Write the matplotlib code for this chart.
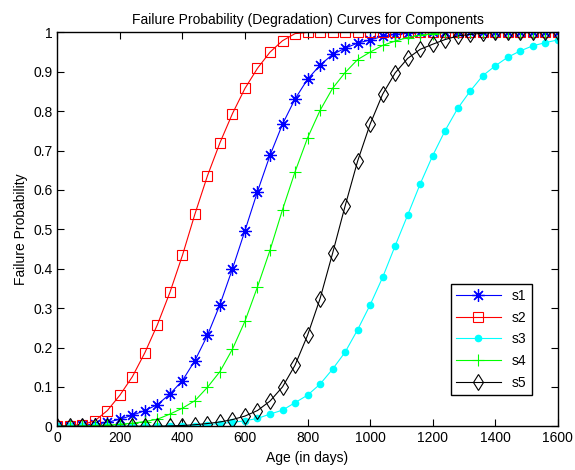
import numpy as np
import matplotlib
matplotlib.use("Agg")
import matplotlib.pyplot as plt

plt.rcParams['font.family'] = ['Liberation Sans', 'DejaVu Sans']

# ages where the curves were sampled (every 40 days)
age = np.arange(0, 1601, 40)

s1 = [0, 0.001, 0.003, 0.005, 0.010, 0.018, 0.028, 0.040, 0.055, 0.082,
      0.116, 0.167, 0.231, 0.309, 0.400, 0.497, 0.596, 0.688, 0.767, 0.831,
      0.881, 0.917, 0.944, 0.960, 0.973, 0.981, 0.990, 0.995, 0.998,
      1, 1, 1, 1, 1, 1, 1, 1, 1, 1, 1, 1]
s2 = [0, 0.002, 0.004, 0.014, 0.040, 0.079, 0.126, 0.187, 0.258, 0.340,
      0.434, 0.539, 0.636, 0.720, 0.794, 0.858, 0.909, 0.950, 0.979, 0.997,
      1, 1, 1, 1, 1, 1, 1, 1, 1, 1, 1, 1, 1, 1, 1, 1, 1, 1, 1, 1, 1]
s3 = [0, 0, 0, 0, 0, 0, 0, 0, 0, 0,
      0.001, 0.002, 0.004, 0.007, 0.010, 0.014, 0.020, 0.031, 0.041, 0.060,
      0.079, 0.107, 0.145, 0.188, 0.245, 0.308, 0.378, 0.458, 0.536, 0.615,
      0.687, 0.751, 0.807, 0.851, 0.890, 0.915, 0.937, 0.953, 0.966, 0.974,
      0.981]
s4 = [0, 0, 0.001, 0.002, 0.003, 0.005, 0.008, 0.012, 0.018, 0.031,
      0.046, 0.065, 0.099, 0.139, 0.196, 0.267, 0.354, 0.447, 0.550, 0.646,
      0.732, 0.802, 0.858, 0.898, 0.931, 0.950, 0.967, 0.978, 0.987, 0.993,
      0.997, 1, 1, 1, 1, 1, 1, 1, 1, 1, 1]
s5 = [0, 0, 0, 0, 0, 0, 0, 0, 0, 0.001,
      0.002, 0.004, 0.007, 0.011, 0.017, 0.026, 0.040, 0.064, 0.100, 0.155,
      0.231, 0.324, 0.439, 0.559, 0.673, 0.767, 0.843, 0.897, 0.934, 0.957,
      0.970, 0.982, 0.991, 0.995, 0.998, 1, 1, 1, 1, 1, 1]

fig = plt.figure(figsize=(5.75, 4.7), dpi=100)
ax = fig.add_axes([0.0997, 0.093, 0.8703, 0.838])

lw = 0.8
asterisk = (8, 2, 0)  # matlab style '*' : plus and cross together
ax.plot(age, s1, '-', color='#0000ff', marker=asterisk, ms=9, mew=0.9, lw=lw, label='s1')
ax.plot(age, s2, '-', color='#ff0000', marker='s', ms=7.5, mfc='none', mew=0.8, lw=lw, label='s2')
ax.plot(age, s3, '-', color='#00ffff', marker='o', ms=4.5, lw=lw, label='s3')
ax.plot(age, s4, '-', color='#00ff00', marker='+', ms=9, mew=0.8, lw=lw, label='s4')
ax.plot(age, s5, '-', color='#000000', marker='d', ms=8, mfc='none', mew=0.8, lw=lw, label='s5')

ax.set_xlim(0, 1600)
ax.set_ylim(0, 1)
ax.set_xticks(range(0, 1601, 200))
ax.set_yticks(np.arange(0, 1.01, 0.1))
ax.set_yticklabels(['0', '0.1', '0.2', '0.3', '0.4', '0.5', '0.6', '0.7', '0.8', '0.9', '1'])
ax.tick_params(direction='in', top=True, right=True, length=5, width=0.8, labelsize=10)
for sp in ax.spines.values():
    sp.set_linewidth(1.0)

ax.set_title('Failure Probability (Degradation) Curves for Components', fontsize=10, pad=6)
ax.set_xlabel('Age (in days)', fontsize=10)
ax.set_ylabel('Failure Probability', fontsize=10)

leg = ax.legend(loc='lower left', bbox_to_anchor=(0.786, 0.079), borderaxespad=0,
                fancybox=False, framealpha=1, edgecolor='black', fontsize=10,
                handlelength=3.2, labelspacing=0.55)
leg.get_frame().set_linewidth(1.0)

fig.savefig('out.png', dpi=100)
